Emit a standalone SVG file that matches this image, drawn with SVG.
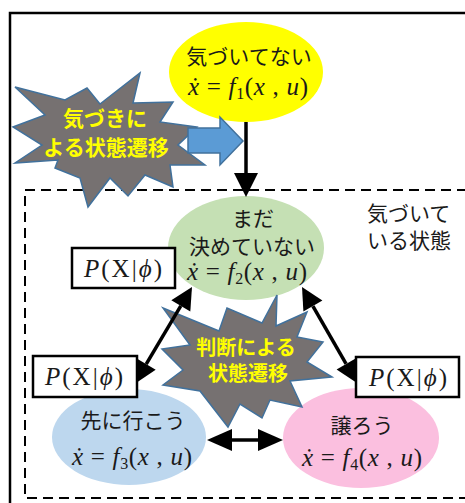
<svg xmlns="http://www.w3.org/2000/svg" width="465" height="503" viewBox="0 0 465 503">
<style>
.jp{font-family:"Noto Sans CJK JP","Noto Sans",sans-serif;font-size:21px;fill:#1a1a1a}
.yl{font-family:"Noto Sans CJK JP","Noto Sans",sans-serif;font-weight:bold;fill:#FFFF00}
.m{font-family:"Liberation Serif","DejaVu Serif",serif;font-size:25px;fill:#1a1a1a}
.p{font-family:"Liberation Serif","DejaVu Serif",serif;font-size:25px;fill:#1a1a1a}
.s{font-size:16px}
.i{font-style:italic}
.burst{fill:#767171;stroke:#41719C;stroke-width:1.5;stroke-linejoin:miter}
.box{fill:#fff;stroke:#000;stroke-width:2.5}
.ln{stroke:#000;stroke-width:3.5;fill:none}
.hd{fill:#000}
</style>
<rect x="0" y="0" width="465" height="503" fill="#fff"/>
<rect id="outer" x="10" y="13" width="470" height="500" fill="none" stroke="#000" stroke-width="2.5"/>
<g id="aware-region">
<rect x="25" y="190" width="460" height="308" fill="none" stroke="#000" stroke-width="2" stroke-dasharray="10 6"/>
<text class="jp"><tspan x="367" y="221">気づいて</tspan><tspan x="367" y="248">いる状態</tspan></text>
</g>
<g id="unaware">
<ellipse cx="246" cy="72" rx="77" ry="50" fill="#FFFF00"/>
<text class="jp" x="249" y="64" text-anchor="middle">気づいてない</text>
<text class="m" x="188" y="95" textLength="120" lengthAdjust="spacing"><tspan class="i">ẋ</tspan> = <tspan class="i">f</tspan><tspan class="s" dy="4">1</tspan><tspan dy="-4">(</tspan><tspan class="i">x</tspan> , <tspan class="i">u</tspan>)</text>
</g>
<g id="undecided">
<ellipse cx="246" cy="248" rx="78" ry="52" fill="#C5E0B4"/>
<text class="jp" text-anchor="middle"><tspan x="253" y="226">まだ</tspan><tspan x="252" y="254">決めていない</tspan></text>
<text class="m" x="187" y="280" textLength="120" lengthAdjust="spacing"><tspan class="i">ẋ</tspan> = <tspan class="i">f</tspan><tspan class="s" dy="4">2</tspan><tspan dy="-4">(</tspan><tspan class="i">x</tspan> , <tspan class="i">u</tspan>)</text>
</g>
<g id="go-first">
<ellipse cx="129" cy="437" rx="77" ry="48" fill="#BDD7EE"/>
<text class="jp" x="133" y="428" text-anchor="middle">先に行こう</text>
<text class="m" x="72" y="465" textLength="120" lengthAdjust="spacing"><tspan class="i">ẋ</tspan> = <tspan class="i">f</tspan><tspan class="s" dy="4">3</tspan><tspan dy="-4">(</tspan><tspan class="i">x</tspan> , <tspan class="i">u</tspan>)</text>
</g>
<g id="yield">
<ellipse cx="361" cy="438" rx="78" ry="50" fill="#FBBFDF"/>
<text class="jp" x="362" y="433" text-anchor="middle">譲ろう</text>
<text class="m" x="302" y="466" textLength="120" lengthAdjust="spacing"><tspan class="i">ẋ</tspan> = <tspan class="i">f</tspan><tspan class="s" dy="4">4</tspan><tspan dy="-4">(</tspan><tspan class="i">x</tspan> , <tspan class="i">u</tspan>)</text>
</g>
<g id="prob1">
<rect class="box" x="72" y="248" width="103" height="40"/>
<text class="p" x="84" y="277" textLength="78" lengthAdjust="spacing"><tspan class="i">P</tspan>(X|<tspan class="i">ϕ</tspan>)</text>
</g>
<g id="prob2">
<rect class="box" x="33" y="356" width="104" height="41"/>
<text class="p" x="45" y="385" textLength="78" lengthAdjust="spacing"><tspan class="i">P</tspan>(X|<tspan class="i">ϕ</tspan>)</text>
</g>
<g id="prob3">
<rect class="box" x="356" y="357" width="103" height="40"/>
<text class="p" x="369" y="386" textLength="78" lengthAdjust="spacing"><tspan class="i">P</tspan>(X|<tspan class="i">ϕ</tspan>)</text>
</g>
<g id="burst-awareness">
<polygon class="burst" points="140,73 133,103 173,102 160,122 197,127 178,145 205,165 170,165 173,187 145,175 128,196 110,178 88,207 80,178 55,168 58,160 15,163 42,145 13,127 45,115 15,87 65,100 87,88 100,104"/>
<text class="yl" font-size="21" text-anchor="middle"><tspan x="105" y="126">気づきに</tspan><tspan x="106" y="155">よる状態遷移</tspan></text>
</g>
<g id="burst-decision">
<polygon class="burst" points="277,295 262,323 227,308 219,331 163,308 190,345 162,349 183,370 163,385 200,391 228,427 240,404 262,418 270,400 302,407 290,381 332,377 307,362 323,342 297,337 307,312 276,326"/>
<text class="yl" font-size="20" text-anchor="middle"><tspan x="246" y="355">判断による</tspan><tspan x="248" y="381">状態遷移</tspan></text>
</g>
<g id="connectors">
<polygon points="188,128 220,128 220,117 243,141 220,165 220,153 188,153" fill="#5B9BD5" stroke="#41719C" stroke-width="1.5"/>
<line class="ln" x1="246" y1="122" x2="246" y2="175"/>
<polygon class="hd" points="234,173 258,173 246,197"/>
<line class="ln" x1="180.8" y1="305.9" x2="146.2" y2="364.1"/>
<polygon class="hd" points="192,287 190.3,311.5 171.3,300.3"/>
<polygon class="hd" points="136,383 155.7,369.7 136.7,358.5"/>
<line class="ln" x1="312.9" y1="306.1" x2="346.1" y2="363.9"/>
<polygon class="hd" points="302,287 322.4,300.6 303.4,311.6"/>
<polygon class="hd" points="357,383 355.6,358.4 336.6,369.4"/>
<line class="ln" x1="230" y1="440" x2="260" y2="440" stroke-width="4"/>
<polygon class="hd" points="207,440 232,429 232,451"/>
<polygon class="hd" points="283,440 258,429 258,451"/>
</g>
</svg>
